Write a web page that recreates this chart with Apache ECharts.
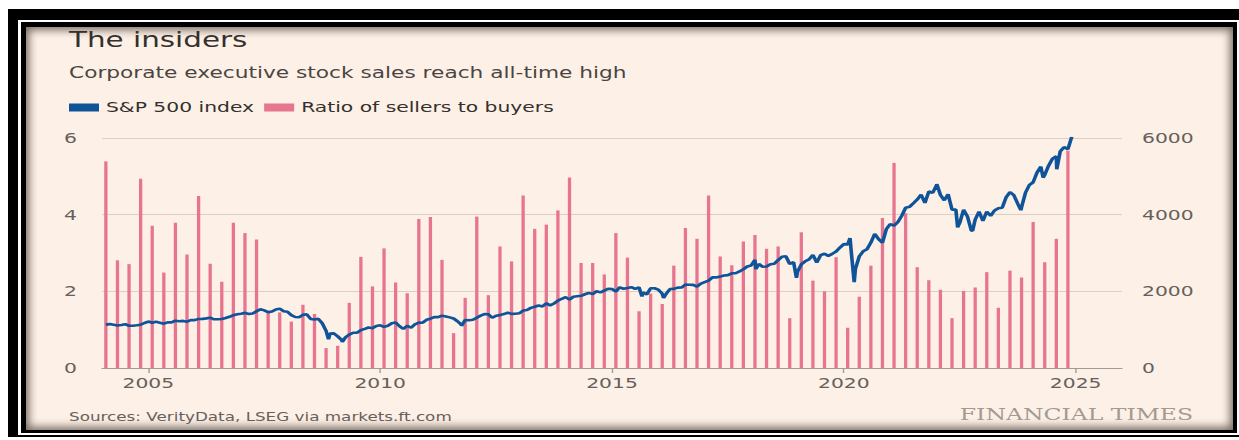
<!DOCTYPE html>
<html>
<head>
<meta charset="utf-8">
<script src="https://cdn.jsdelivr.net/npm/echarts@6/dist/echarts.min.js"></script>
<style>
  html, body { margin: 0; padding: 0; background: #fff; width: 1239px; height: 440px; overflow: hidden; }
  .box { position: absolute; }
  #outer { left: 8px; top: 9px; width: 1231px; height: 428px; background: #000; }
  #gap   { left: 18px; top: 20px; width: 1221px; height: 415px; background: #fff; }
  #inner { left: 21px; top: 22px; width: 1216px; height: 411px; background: #000; }
  #panel { left: 26px; top: 27px; width: 1207px; height: 403px; background: #FDF0E6;
           box-shadow: inset 0 0 9px 3px rgba(30, 20, 10, 0.6); }
  #chart { position: absolute; left: 0; top: 0; height: 440px; transform-origin: 0 0; }
</style>
</head>
<body>
<div class="box" id="outer"></div>
<div class="box" id="gap"></div>
<div class="box" id="inner"></div>
<div class="box" id="panel"></div>
<div id="chart"></div>
<script>
// Ratio of executive sellers to buyers, quarterly, 2004 Q1 .. 2024 Q4
const ratioStartYear = 2004;
const sellerBuyerRatio = [
  5.39, 2.81, 2.71, 4.94,   // 2004
  3.71, 2.49, 3.79, 2.96,   // 2005
  4.49, 2.72, 2.25, 3.79,   // 2006
  3.52, 3.35, 1.50, 1.45,   // 2007
  1.21, 1.65, 1.41, 0.52,   // 2008
  0.58, 1.70, 2.90, 2.13,   // 2009
  3.12, 2.23, 1.95, 3.89,   // 2010
  3.94, 2.82, 0.91, 1.83,   // 2011
  3.95, 1.90, 3.17, 2.78,   // 2012
  4.50, 3.63, 3.74, 4.11,   // 2013
  4.97, 2.74, 2.74, 2.44,   // 2014
  3.52, 2.88, 1.48, 1.94,   // 2015
  1.67, 2.67, 3.65, 3.37,   // 2016
  4.50, 2.91, 2.68, 3.30,   // 2017
  3.47, 3.11, 3.17, 1.30,   // 2018
  3.54, 2.28, 2.00, 2.89,   // 2019
  1.05, 1.86, 2.67, 3.91,   // 2020
  5.35, 4.04, 2.63, 2.29,   // 2021
  2.04, 1.30, 2.01, 2.10,   // 2022
  2.50, 1.57, 2.54, 2.36,   // 2023
  3.81, 2.76, 3.37, 5.67    // 2024
];

// S&P 500 month-end levels, Jan 2004 .. Nov 2024
const spxStartYear = 2004;
const spxMonthly = [
  1131, 1145, 1126, 1107, 1121, 1141, 1102, 1104, 1115, 1130, 1174, 1212, // 2004
  1181, 1204, 1181, 1157, 1192, 1191, 1234, 1220, 1229, 1207, 1249, 1248, // 2005
  1280, 1281, 1295, 1311, 1270, 1270, 1277, 1304, 1336, 1378, 1401, 1418, // 2006
  1438, 1407, 1421, 1482, 1531, 1503, 1455, 1474, 1527, 1549, 1481, 1468, // 2007
  1379, 1331, 1323, 1386, 1400, 1280, 1267, 1283, 1166,  969,  896,  903, // 2008
   826,  735,  798,  873,  919,  919,  987, 1021, 1057, 1036, 1096, 1115, // 2009
  1074, 1104, 1169, 1187, 1089, 1031, 1102, 1049, 1141, 1183, 1181, 1258, // 2010
  1286, 1327, 1326, 1364, 1345, 1321, 1292, 1219, 1131, 1253, 1247, 1258, // 2011
  1312, 1366, 1408, 1398, 1310, 1362, 1379, 1407, 1441, 1412, 1416, 1426, // 2012
  1498, 1515, 1569, 1598, 1631, 1606, 1686, 1633, 1682, 1757, 1806, 1848, // 2013
  1783, 1859, 1872, 1884, 1924, 1960, 1931, 2003, 1972, 2018, 2068, 2059, // 2014
  1995, 2105, 2068, 2086, 2107, 2063, 2104, 1972, 1920, 2079, 2080, 2044, // 2015
  1940, 1932, 2060, 2065, 2097, 2099, 2174, 2171, 2168, 2126, 2199, 2239, // 2016
  2279, 2364, 2363, 2384, 2412, 2423, 2470, 2472, 2519, 2575, 2648, 2674, // 2017
  2824, 2714, 2641, 2648, 2705, 2718, 2816, 2902, 2914, 2712, 2760, 2507, // 2018
  2704, 2784, 2834, 2946, 2752, 2942, 2980, 2926, 2977, 3038, 3141, 3231, // 2019
  3226, 2954, 2585, 2912, 3044, 3100, 3271, 3500, 3363, 3270, 3622, 3756, // 2020
  3714, 3811, 3973, 4181, 4204, 4298, 4395, 4523, 4308, 4605, 4567, 4766, // 2021
  4516, 4374, 4530, 4132, 4132, 3785, 4130, 3955, 3586, 3872, 4080, 3840, // 2022
  4077, 3970, 4109, 4169, 4180, 4450, 4589, 4508, 4288, 4194, 4568, 4770, // 2023
  4846, 5096, 5254, 5036, 5278, 5460, 5522, 5648, 5762, 5705, 6032        // 2024
];

// Intra-month turning points of the index
const spxExtremeDates  = ['2008-11-20', '2009-03-09', '2010-07-02', '2011-10-03', '2015-08-25',
                          '2016-02-11', '2018-02-08', '2018-12-24', '2020-02-19', '2020-03-23',
                          '2022-01-03', '2022-06-16', '2022-10-12', '2023-10-27', '2024-04-19',
                          '2024-08-05'];
const spxExtremeValues = [752, 677, 1022, 1099, 1867,
                          1829, 2581, 2351, 3386, 2237,
                          4797, 3667, 3577, 4117, 4967,
                          5186];

const yearTicks = [2005, 2010, 2015, 2020, 2025];
const leftTicks = [0, 2, 4, 6];
const rightTicks = [0, 2000, 4000, 6000];

// ---- helpers ----
function dateToYear(s) {
  const d = new Date(s + 'T00:00:00Z');
  const y = d.getUTCFullYear();
  const start = Date.UTC(y, 0, 1), end = Date.UTC(y + 1, 0, 1);
  return y + (d.getTime() - start) / (end - start);
}

const barData = sellerBuyerRatio.map((v, i) => [ratioStartYear + i * 0.25 + 1 / 12, v]);

const spxData = spxMonthly.map((v, i) => [spxStartYear + (i + 1) / 12, v])
  .concat(spxExtremeDates.map((d, i) => [dateToYear(d), spxExtremeValues[i]]))
  .sort((a, b) => a[0] - b[0]);

// Horizontal stretch of the whole drawing
const SX = 1.4;
const el = document.getElementById('chart');
el.style.width = (1239 / SX) + 'px';
el.style.transform = 'scaleX(' + SX + ')';

const font = 'DejaVu Sans';
const chart = echarts.init(el, null, { renderer: 'svg' });
chart.setOption({
  animation: false,
  backgroundColor: 'transparent',
  title: [
    { text: 'The insiders', left: 69 / SX, top: 29, padding: 0,
      textStyle: { fontFamily: font, fontSize: 21, fontWeight: 'normal', color: '#33302E' } },
    { text: 'Corporate executive stock sales reach all-time high', left: 69 / SX, top: 65, padding: 0,
      textStyle: { fontFamily: font, fontSize: 15.5, fontWeight: 'normal', color: '#4A4542' } },
    { text: 'Sources: VerityData, LSEG via markets.ft.com', left: 69 / SX, top: 410, padding: 0,
      textStyle: { fontFamily: font, fontSize: 12, fontWeight: 'normal', color: '#66605C' } },
    { text: 'FINANCIAL TIMES', right: (1239 - 1193) / SX, top: 406, padding: 0,
      textStyle: { fontFamily: 'DejaVu Serif', fontSize: 16.8, fontWeight: 'normal', color: '#A39A94' } }
  ],
  legend: {
    left: 69 / SX, top: 100, padding: 0,
    itemWidth: 30 / SX, itemHeight: 8, itemGap: 10 / SX,
    icon: 'rect',
    textStyle: { fontFamily: font, fontSize: 14.5, color: '#33302E' },
    data: ['S&P 500 index', 'Ratio of sellers to buyers']
  },
  grid: { left: 102 / SX, right: (1239 - 1122) / SX, top: 138, bottom: 72, containLabel: false },
  xAxis: {
    type: 'value', min: 2004, max: 2026,
    splitLine: { show: false },
    axisLine: { show: true, lineStyle: { color: '#A39B95', width: 1 } },
    axisTick: { show: true, customValues: yearTicks, length: 5, lineStyle: { color: '#A39B95' } },
    axisLabel: { customValues: yearTicks, formatter: v => String(v), margin: 8,
                 fontFamily: font, fontSize: 14.5, color: '#66605C' }
  },
  yAxis: [
    { type: 'value', min: 0, max: 6, interval: 2, position: 'left',
      axisLine: { show: false }, axisTick: { show: false },
      splitLine: { show: true, lineStyle: { color: '#DCCEC3', width: 1 } },
      axisLabel: { margin: 25 / SX, fontFamily: font, fontSize: 14.5, color: '#66605C',
                   formatter: v => leftTicks.includes(v) ? String(v) : '' } },
    { type: 'value', min: 0, max: 6000, interval: 2000, position: 'right',
      axisLine: { show: false }, axisTick: { show: false }, splitLine: { show: false },
      axisLabel: { margin: 20 / SX, fontFamily: font, fontSize: 14.5, color: '#66605C',
                   formatter: v => rightTicks.includes(v) ? String(v) : '' } }
  ],
  series: [
    { name: 'Ratio of sellers to buyers', type: 'bar', yAxisIndex: 0, xAxisIndex: 0,
      data: barData, barWidth: 3.3 / SX, z: 1,
      itemStyle: { color: '#E8758F' } },
    { name: 'S&P 500 index', type: 'line', yAxisIndex: 1, xAxisIndex: 0,
      data: spxData, showSymbol: false, symbol: 'none', z: 3,
      color: '#0F5499',
      lineStyle: { color: '#0F5499', width: 2.6 } }
  ]
});
</script>
</body>
</html>
